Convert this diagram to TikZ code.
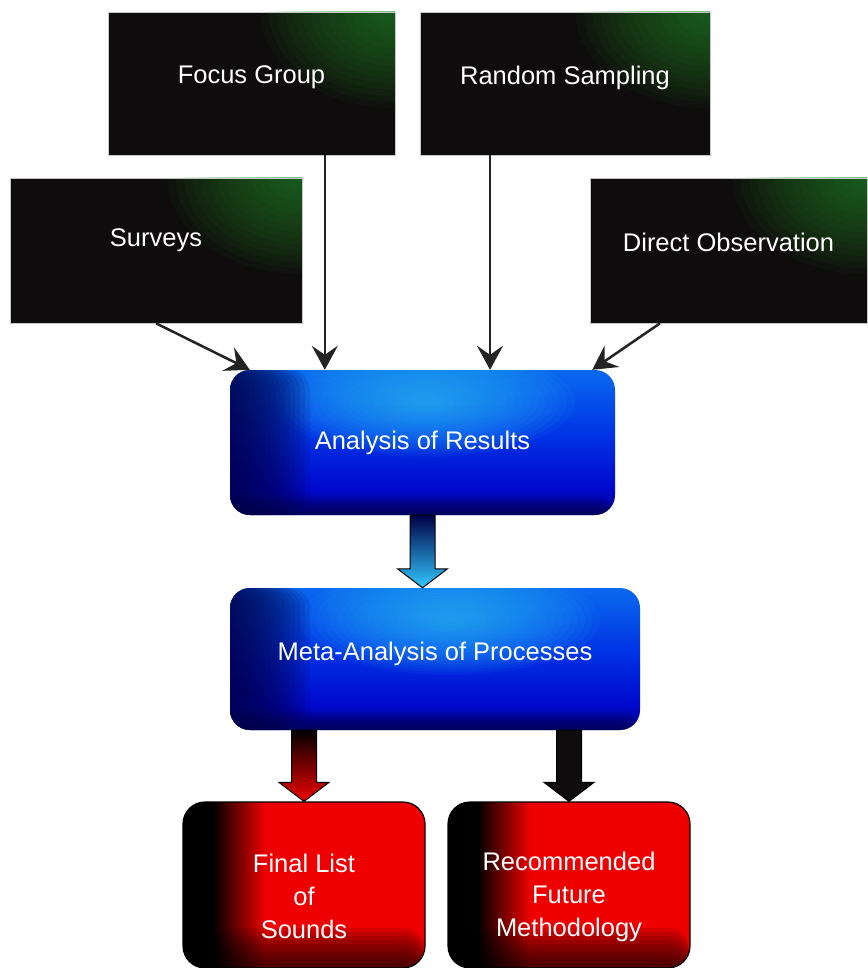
\documentclass[tikz,border=0pt]{standalone}
\usepackage{fontspec}
\setmainfont{Liberation Sans}
\usetikzlibrary{arrows.meta}
\definecolor{srcblack}{RGB}{14,12,12}
\definecolor{srcgreen}{RGB}{40,150,45}
\definecolor{anavy}{RGB}{0,0,70}
\definecolor{adeep}{RGB}{0,0,130}
\definecolor{ablue}{RGB}{0,8,205}
\definecolor{abright}{RGB}{0,50,228}
\definecolor{aupper}{RGB}{10,105,238}
\definecolor{acyan}{RGB}{50,200,255}
\definecolor{outred}{RGB}{238,0,0}
\definecolor{feedgray}{RGB}{35,35,35}
\pgfdeclareverticalshading{bluebox}{100bp}{color(0bp)=(adeep); color(25bp)=(adeep); color(34bp)=(ablue); color(52bp)=(abright); color(75bp)=(aupper); color(100bp)=(aupper)}
\pgfdeclarehorizontalshading{redbox}{100bp}{color(0bp)=(black); color(25bp)=(black); color(31bp)=(black); color(42bp)=(outred); color(100bp)=(outred)}
\newcommand{\blockarrow}[3]{%
  \draw[#3] ([xshift=-12.5pt]#1) -- ([xshift=-12.5pt,yshift=19pt]#2) -- ([xshift=-25pt,yshift=19pt]#2)
    -- (#2) -- ([xshift=25pt,yshift=19pt]#2) -- ([xshift=12.5pt,yshift=19pt]#2) -- ([xshift=12.5pt]#1) -- cycle;}

\begin{document}
\begin{tikzpicture}[x=1pt,y=-1pt,font=\fontsize{25.5pt}{33pt}\selectfont,
    srcbox/.style={draw=gray!45,line width=.6pt,fill=srcblack,text=white,inner sep=0pt,text depth=17pt,
      path picture={\foreach \r in {6,12,...,96}
          \fill[srcgreen,opacity=.055] (path picture bounding box.north east) ellipse[x radius=1.4*\r pt,y radius=\r pt];}},
    midbox/.style={rounded corners=20pt,shading=bluebox,text=white,inner sep=0pt,
      path picture={\foreach \r in {5,10,...,100}
          \fill[acyan,opacity=.055] ([xshift=-190pt,yshift=-32pt]path picture bounding box.north east) ellipse[x radius=1.5*\r pt,y radius=.55*\r pt];
        \foreach \w in {5,10,...,80}
          \fill[anavy,opacity=.1] (path picture bounding box.south west) rectangle ([xshift=\w pt]path picture bounding box.north west);
        \foreach \h in {3,6,...,18}
          \fill[anavy,opacity=.12] (path picture bounding box.south west) rectangle ([yshift=\h pt]path picture bounding box.south east);}},
    outbox/.style={rounded corners=22pt,draw=black,line width=1.2pt,shading=redbox,text=white,align=center,inner sep=0pt,text height=108pt,
      path picture={\foreach \h in {4,8,...,40}
          \fill[black,opacity=.1] (path picture bounding box.south west) rectangle ([yshift=\h pt]path picture bounding box.south east);}},
    feed/.style={-{Stealth[length=24pt,width=26pt,inset=9pt]},line width=2.5pt,draw=feedgray},
    bigarr/.style={draw=black,line width=1pt}]
  \useasboundingbox (0,0) rectangle (867,968);
  % data collection
  \node[srcbox,minimum width=287pt,minimum height=143pt] (foc) at (251.5,83.5) {Focus Group};
  \node[srcbox,minimum width=290pt,minimum height=143pt] (rnd) at (565,83.5) {Random Sampling};
  \node[srcbox,minimum width=292pt,minimum height=145pt,text depth=25pt] (srv) at (156,250.5) {Surveys};
  \node[srcbox,minimum width=277pt,minimum height=145pt] (dob) at (728.5,250.5) {Direct Observation};
  % analysis
  \node[midbox,minimum width=385pt,minimum height=145pt] (ana) at (422.5,442.5) {Analysis of Results};
  \node[midbox,minimum width=410pt,minimum height=142pt,text depth=15pt] (meta) at (435,659) {Meta-Analysis of Processes};
  % outcomes
  \node[outbox,minimum width=242pt,minimum height=166pt] (fin) at (304,885) {Final List\\of\\Sounds};
  \node[outbox,minimum width=242pt,minimum height=166pt] (rec) at (569,885) {Recommended\\Future\\Methodology};
  % feeds into analysis
  \coordinate (a1) at ([xshift=20pt]ana.north west);
  \coordinate (a2) at ([xshift=95pt]ana.north west);
  \coordinate (a3) at ([xshift=67.5pt]ana.north);
  \coordinate (a4) at ([xshift=-23pt]ana.north east);
  \draw[feed] (srv.south) -- (a1);
  \draw[feed] (foc.south -| a2) -- (a2);
  \draw[feed] (rnd.south -| a3) -- (a3);
  \draw[feed] ([xshift=-68.5pt]dob.south) -- (a4);
  % block arrows
  \coordinate (t1) at (ana.south |- meta.north);
  \coordinate (s2) at (fin.north |- meta.south);
  \coordinate (s3) at (rec.north |- meta.south);
  \blockarrow{ana.south}{t1}{bigarr,top color=anavy,middle color=ablue,bottom color=acyan}
  \blockarrow{s2}{fin.north}{bigarr,top color=black,middle color=black!55!outred,bottom color=outred}
  \blockarrow{s3}{rec.north}{bigarr,fill=srcblack}
\end{tikzpicture}
\end{document}
